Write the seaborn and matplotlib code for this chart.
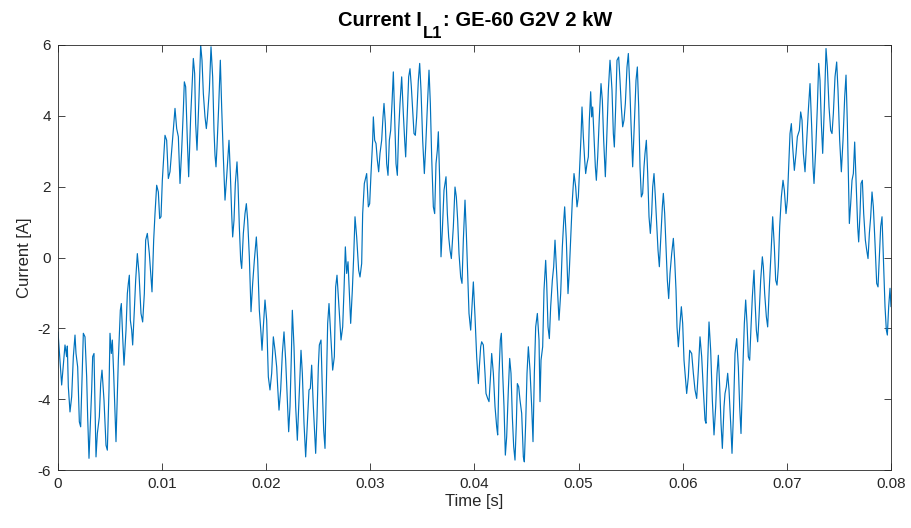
import matplotlib
matplotlib.use("Agg")
import matplotlib.pyplot as plt
import numpy as np
import pandas as pd
import seaborn as sns

# (time [ms], current [A]) vertices, per segment
seg1 = [(0.000,-2.10),(0.352,-3.60),(0.672,-2.47),(0.832,-2.80),(0.896,-2.50),(0.992,-3.65),(1.152,-4.36),
        (1.313,-3.93),(1.473,-2.80),(1.633,-2.19),(1.729,-2.71),(1.889,-3.09),(2.049,-4.64),(2.177,-4.78),
        (2.433,-2.14),(2.593,-2.24),(2.753,-3.37),(2.849,-4.50),(2.977,-5.67),(3.233,-3.74),(3.329,-2.80),
        (3.457,-2.71),(3.650,-5.63),(3.778,-4.97),(3.970,-4.50),(4.098,-3.56),(4.226,-3.18),(4.418,-4.03),
        (4.610,-5.30),(4.738,-5.44),(4.898,-3.74),(4.994,-2.14),(5.122,-2.71),(5.218,-2.33),(5.346,-3.27),
        (5.570,-5.20),(5.794,-2.90),(5.986,-1.49),(6.082,-1.30),(6.211,-2.24),(6.339,-3.04),(6.531,-2.05),
        (6.659,-1.02),(6.755,-0.73),(6.851,-0.50),(6.947,-1.77),(7.075,-2.05),(7.171,-2.47),(7.331,-1.49),
        (7.459,-0.64),(7.619,0.11),(7.779,-0.45),(7.971,-1.58),(8.131,-1.82),(8.291,-1.02),(8.419,0.49),
        (8.579,0.68),(8.771,0.11),(8.932,-0.55),(9.028,-0.97),(9.188,0.49),(9.316,1.24),(9.476,2.04),
        (9.636,1.85),(9.764,1.10),(9.892,1.15),(10.020,2.18)]
seg2 = [(10.276,3.45),(10.436,3.31),(10.596,2.23),(10.756,2.42),(10.917,3.03),(11.077,3.64),(11.237,4.21),
        (11.397,3.64),(11.557,3.41),(11.717,2.09),(11.877,3.03),(12.037,4.16),(12.133,4.96),(12.261,4.82),
        (12.421,3.31),(12.549,2.28),(12.741,3.97),(12.901,5.00),(12.997,5.62),(13.125,5.19),(13.221,3.78),
        (13.350,3.03),(13.542,4.53),(13.702,6.00),(13.830,5.57),(13.958,4.63),(14.118,3.97),(14.246,3.64),
        (14.342,3.92),(14.534,4.72),(14.694,5.95),(14.854,5.10),(14.982,3.59),(15.078,2.89),(15.174,2.56),
        (15.270,3.12),(15.430,4.25),(15.590,5.57),(15.718,4.25),(15.879,2.84),(16.039,1.62),(16.199,2.28),
        (16.359,3.03),(16.423,3.31),(16.551,2.37),(16.679,1.24),(16.775,0.58),(16.903,1.05),(17.031,2.09),
        (17.191,2.70),(17.287,2.09),(17.415,0.87),(17.544,-0.08),(17.640,-0.31),(17.800,0.68),(17.960,1.24),
        (18.088,1.52),(18.216,1.05),(18.376,0.02),(18.536,-1.53),(18.696,-0.73),(18.856,-0.08),(19.048,0.58),
        (19.176,-0.08),(19.336,-1.49),(19.496,-2.14),(19.592,-2.62),(19.720,-1.96),(19.880,-1.20),(20.040,-1.77)]
seg3 = [(20.200,-3.37),(20.360,-3.74),(20.521,-3.27),(20.681,-2.24),(20.841,-2.62),(21.001,-3.09),(21.097,-3.65),
        (21.225,-4.31),(21.385,-3.74),(21.545,-2.71),(21.705,-2.10),(21.865,-2.90),(22.025,-4.03),(22.153,-4.92),
        (22.281,-4.21),(22.409,-2.80),(22.505,-1.49),(22.665,-2.52),(22.826,-4.21),(22.986,-5.16),(23.114,-4.21),
        (23.242,-3.27),(23.338,-2.62),(23.466,-3.27),(23.626,-4.68),(23.786,-5.63),(23.946,-4.68),(24.106,-3.74),
        (24.234,-3.70),(24.362,-3.04),(24.522,-4.21),(24.746,-5.53),(24.874,-4.50),(25.002,-3.09),(25.098,-2.47),
        (25.259,-2.33),(25.387,-3.74),(25.515,-4.87),(25.643,-5.39),(25.803,-3.27),(25.899,-1.86),(26.027,-1.30),
        (26.187,-2.14),(26.379,-3.18),(26.539,-2.80),(26.667,-0.83),(26.795,-0.50),(26.923,-1.11),(27.179,-2.33),
        (27.340,-1.96),(27.468,-0.92),(27.596,0.30),(27.724,-0.45),(27.852,-0.12),(27.980,-1.02),(28.108,-1.86),
        (28.268,-0.92),(28.396,0.02),(28.524,1.15),(28.684,0.58),(28.876,-0.36),(29.004,-0.55),(29.164,-0.17),
        (29.260,1.24),(29.420,2.09),(29.644,2.37),(29.805,1.43),(29.933,1.52),(30.061,2.37),(30.221,3.31)]
seg4 = [(30.285,3.97),(30.413,3.31),(30.541,3.22),(30.669,2.75),(30.797,2.42),(30.925,2.94),(31.085,3.31),
        (31.213,3.97),(31.309,4.35),(31.437,3.78),(31.565,2.65),(31.693,2.32),(31.821,3.31),(31.950,3.59),
        (32.077,4.35),(32.205,5.24),(32.334,3.97),(32.462,2.65),(32.590,2.32),(32.718,3.59),(32.846,4.35),
        (33.006,5.10),(33.166,4.06),(33.294,3.31),(33.390,2.84),(33.550,4.06),(33.678,5.10),(33.806,5.33),
        (33.934,4.82),(34.062,4.16),(34.190,3.50),(34.318,3.45),(34.446,3.97),(34.606,5.00),(34.735,5.48),
        (34.863,4.72),(35.023,3.31),(35.183,2.37),(35.311,3.12),(35.471,4.25),(35.631,5.29),(35.759,4.35),
        (35.887,2.84),(36.047,1.43),(36.175,1.24),(36.303,2.65),(36.431,3.03),(36.527,3.55),(36.656,2.18),
        (36.783,0.02),(36.911,0.77),(37.071,1.90),(37.264,2.28),(37.392,1.24),(37.520,0.58),(37.648,0.21),
        (37.776,-0.03),(37.968,0.87),(38.128,1.99),(38.256,1.71),(38.384,1.05),(38.512,0.11),(38.672,-0.55),
        (38.800,-0.73),(38.928,0.49),(39.088,1.62),(39.216,0.68),(39.344,-0.45),(39.472,-1.58),(39.633,-2.05),
        (39.761,-1.39),(39.889,-0.69),(40.049,-1.67),(40.209,-2.80)]
seg5 = [(40.369,-3.56),(40.465,-3.09),(40.593,-2.52),(40.689,-2.38),(40.849,-2.47),(41.009,-3.27),(41.105,-3.84),
        (41.265,-3.98),(41.393,-4.07),(41.553,-3.27),(41.650,-2.71),(41.810,-3.27),(41.970,-4.21),(42.130,-4.78),
        (42.226,-5.01),(42.354,-3.27),(42.482,-2.33),(42.578,-2.14),(42.706,-3.27),(42.834,-4.21),(42.962,-5.58),
        (43.090,-5.06),(43.250,-3.74),(43.378,-2.85),(43.506,-3.27),(43.634,-4.50),(43.763,-5.34),(43.890,-5.72),
        (44.019,-4.68),(44.115,-3.56),(44.243,-3.65),(44.371,-4.03),(44.531,-4.40),(44.691,-5.63),(44.787,-5.77),
        (44.915,-4.68),(45.043,-3.27),(45.171,-2.52),(45.331,-3.18),(45.491,-4.21),(45.619,-5.20),(45.747,-3.27),
        (45.876,-1.96),(46.036,-1.58),(46.196,-2.33),(46.292,-4.07),(46.388,-2.90),(46.548,-2.52),(46.675,-0.92),
        (46.836,-0.08),(46.932,-0.73),(47.060,-1.96),(47.188,-2.29),(47.316,-1.39),(47.476,-0.64),(47.604,-0.26),
        (47.732,0.49),(47.860,-0.26),(47.988,-1.02),(48.116,-1.77),(48.276,-1.02),(48.436,0.30),(48.564,1.01),
        (48.660,1.43),(48.820,0.49),(48.980,-1.02),(49.108,-0.36),(49.236,0.49),(49.396,1.62),(49.557,2.37),
        (49.717,1.99),(49.845,1.43),(49.973,1.71),(50.101,2.56),(50.229,3.41),(50.325,4.25)]
seg6 = [(50.453,3.41),(50.581,2.75),(50.677,2.37),(50.805,2.65),(50.933,2.84),(51.029,3.88),(51.157,4.68),
        (51.253,3.97),(51.350,4.25),(51.477,3.41),(51.606,2.56),(51.702,2.18),(51.830,2.84),(51.990,3.97),
        (52.150,4.91),(52.278,4.44),(52.406,3.31),(52.566,2.28),(52.694,3.31),(52.854,4.72),(53.014,5.57),
        (53.110,5.19),(53.206,4.72),(53.334,3.50),(53.430,3.12),(53.558,4.25),(53.686,5.57),(53.847,5.66),
        (53.974,5.00),(54.102,4.25),(54.231,3.69),(54.359,3.88),(54.487,4.35),(54.647,5.38),(54.775,5.76),
        (54.903,4.91),(55.031,3.78),(55.191,2.56),(55.351,3.78),(55.511,5.00),(55.639,5.38),(55.768,4.25),
        (55.895,2.56),(56.023,1.71),(56.152,1.81),(56.279,2.56),(56.376,2.94),(56.504,3.31),(56.632,2.37),
        (56.760,1.15),(56.888,0.68),(57.016,1.24),(57.112,1.99),(57.240,2.37),(57.368,1.71),(57.496,0.96),
        (57.624,0.21),(57.752,-0.26),(57.912,0.68),(58.040,1.43),(58.136,1.81),(58.264,1.24),(58.392,0.30),
        (58.520,-0.64),(58.649,-1.16),(58.777,-0.45),(58.937,0.11),(59.097,0.54),(59.225,-0.08),(59.353,-0.92),
        (59.449,-1.96),(59.577,-2.52),(59.737,-1.86),(59.865,-1.39),(59.993,-1.86),(60.121,-2.90),(60.249,-3.37),
        (60.377,-3.84),(60.537,-3.37),(60.665,-2.62)]
seg7 = [(60.858,-2.71),(61.018,-3.27),(61.177,-3.74),(61.338,-3.98),(61.498,-3.18),(61.658,-2.24),(61.818,-2.80),
        (61.978,-3.74),(62.138,-4.59),(62.234,-4.68),(62.362,-3.27),(62.522,-1.82),(62.682,-2.62),(62.842,-4.03),
        (63.002,-5.01),(63.163,-4.21),(63.290,-3.27),(63.418,-2.76),(63.547,-3.65),(63.675,-4.68),(63.803,-5.39),
        (63.963,-4.21),(64.059,-3.84),(64.187,-3.65),(64.315,-3.27),(64.443,-3.74),(64.603,-4.68),(64.731,-5.53),
        (64.859,-4.50),(65.019,-2.71),(65.179,-2.29),(65.339,-3.09),(65.467,-4.21),(65.595,-4.97),(65.756,-3.27),
        (65.915,-1.86),(66.044,-1.20),(66.172,-1.86),(66.300,-2.80),(66.428,-2.90),(66.556,-1.96),(66.684,-1.11),
        (66.844,-0.36),(66.940,-1.20),(67.068,-2.05),(67.196,-2.38),(67.324,-1.67),(67.484,-0.64),(67.644,0.02),
        (67.740,-0.26),(67.868,-1.02),(68.028,-1.67),(68.156,-1.96),(68.316,-0.83),(68.477,0.11),(68.637,1.15),
        (68.797,0.30),(68.925,-0.64),(69.053,-0.78),(69.181,-0.26),(69.309,0.87),(69.469,1.71),(69.629,2.18),
        (69.757,1.90),(69.917,1.24),(70.045,1.62),(70.173,2.56),(70.301,3.50),(70.429,3.78),(70.557,3.12),
        (70.717,2.46)]
seg8 = [(70.878,2.94),(71.006,3.41),(71.198,3.59),(71.326,4.11),(71.454,3.88),(71.582,2.94),(71.742,2.42),
        (71.902,3.31),(72.062,4.16),(72.222,4.91),(72.382,3.69),(72.510,2.56),(72.606,2.09),(72.767,3.03),
        (72.927,4.25),(73.055,5.48),(73.183,5.00),(73.311,3.78),(73.439,2.94),(73.599,4.25),(73.759,5.90),
        (73.887,5.38),(74.047,4.25),(74.207,3.59),(74.335,3.50),(74.463,4.06),(74.623,5.10),(74.783,5.52),
        (74.911,4.72),(75.071,3.31),(75.231,2.42),(75.391,3.31),(75.552,4.53),(75.680,5.15),(75.808,3.78),
        (75.936,1.90),(76.000,0.96),(76.128,1.52),(76.256,2.18),(76.384,2.37),(76.512,3.26),(76.640,2.18),
        (76.800,0.87),(76.896,0.44),(77.024,1.24),(77.120,2.09),(77.248,2.18),(77.377,1.24),(77.537,0.49),
        (77.665,0.21),(77.793,-0.03),(77.921,0.68),(78.049,1.15),(78.177,1.85),(78.305,1.43),(78.465,0.40),
        (78.625,-0.73),(78.753,-0.83),(78.881,0.02),(79.009,0.87),(79.137,1.15),(79.265,0.02),(79.425,-1.39),
        (79.553,-2.05),(79.649,-2.19),(79.777,-1.39),(79.905,-0.87),(80.000,-1.39)]

x_ticks = [0, 0.01, 0.02, 0.03, 0.04, 0.05, 0.06, 0.07, 0.08]
x_tick_labels = ["0", "0.01", "0.02", "0.03", "0.04", "0.05", "0.06", "0.07", "0.08"]
y_ticks = [-6, -4, -2, 0, 2, 4, 6]
y_tick_labels = ["-6", "-4", "-2", "0", "2", "4", "6"]
title_parts = ["Current I", "L1", ": GE-60 G2V 2 kW"]

points = seg1 + seg2 + seg3 + seg4 + seg5 + seg6 + seg7 + seg8
df = pd.DataFrame(points, columns=["t_ms", "current"])
df["time"] = df["t_ms"] / 1000.0

sns.set_theme(style="ticks")
plt.rcParams["font.family"] = ["Liberation Sans", "DejaVu Sans"]

W, H = 912, 528
fig = plt.figure(figsize=(W / 100, H / 100), dpi=100)
ax = fig.add_axes([58 / W, 1 - 470 / H, 833 / W, 425 / H])

sns.lineplot(data=df, x="time", y="current", estimator=None, sort=False,
             color="#0072BD", linewidth=0.85, ax=ax)

ax.set_xlim(0, 0.08)
ax.set_ylim(-6, 6)
ax.set_xticks(x_ticks)
ax.set_xticklabels(x_tick_labels)
ax.set_yticks(y_ticks)
ax.set_yticklabels(y_tick_labels)
ax.tick_params(direction="in", top=True, right=True, length=5, width=0.6,
               labelsize=11, colors="#262626", pad=5)
for s in ax.spines.values():
    s.set_visible(True)
    s.set_color("#262626")
    s.set_linewidth(0.6)

ax.set_xlabel("Time [s]", fontsize=12, color="#262626", labelpad=2)
ax.set_ylabel("Current [A]", fontsize=12, color="#262626", labelpad=4)

# Title built from pieces: main text, lowered subscript, remaining text
renderer = fig.canvas.get_renderer()
sizes = [14.5, 12, 14.5]
offsets = [0, -12, 0]
gap = [0, 1, 0]
texts = []
widths = []
for part, fs in zip(title_parts, sizes):
    t = fig.text(0, 0, part, fontsize=fs, fontweight="bold", color="black",
                 ha="left", va="baseline")
    widths.append(t.get_window_extent(renderer).width)
    texts.append(t)
total = sum(widths) + sum(gap)
x = 475 - total / 2
base_y = 26
for t, w, g, off in zip(texts, widths, gap, offsets):
    x += g
    t.set_position((x / W, 1 - (base_y - off) / H))
    x += w

fig.savefig("out.png", dpi=100)
